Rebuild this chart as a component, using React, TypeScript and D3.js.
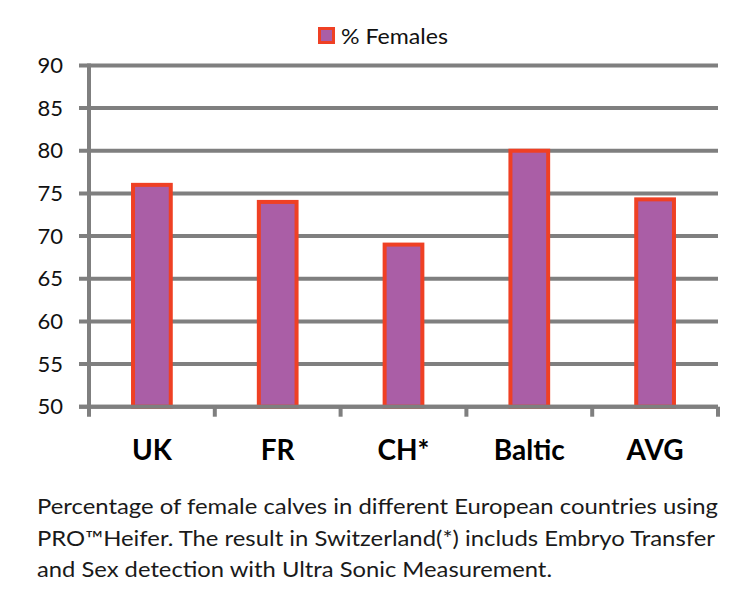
import * as d3 from "d3";
import { useEffect, useRef } from "react";

const categories = ["UK", "FR", "CH*", "Baltic", "AVG"];
const femalesPct = [76, 74, 69, 80, 74.3];
const yTicks = [50, 55, 60, 65, 70, 75, 80, 85, 90];
const seriesName = "% Females";
const captionLines = [
  "Percentage of female calves in different European countries using",
  "PRO\u2122Heifer. The result in Switzerland(*) includs Embryo Transfer",
  "and Sex detection with Ultra Sonic Measurement.",
];

const FONT = "Lato, 'Open Sans', sans-serif";

const App = () => {
  const svgRef = useRef<SVGSVGElement>(null);

  useEffect(() => {
    if (!svgRef.current) return;
    const svg = d3.select(svgRef.current);
    svg.selectAll("*").remove();

    const width = 743;
    const height = 609;
    const marginLeft = 89;
    const marginRight = 25;
    const plotTop = 65.4;
    const plotBottom = 406.7;
    const gridColor = "#7f7f7f";
    const barFill = "#aa5ea6";
    const barStroke = "#ef4024";

    svg.attr("width", width).attr("height", height).attr("viewBox", [0, 0, width, height]);

    // scales
    const x = d3
      .scaleBand()
      .domain(categories)
      .range([marginLeft, width - marginRight])
      .padding(0);

    const y = d3.scaleLinear().domain([50, 90]).range([plotBottom, plotTop]);

    // gridlines (incl. left tick stubs)
    svg
      .append("g")
      .selectAll()
      .data(yTicks)
      .join("line")
      .attr("x1", marginLeft - 10)
      .attr("x2", width - marginRight)
      .attr("y1", (d) => y(d))
      .attr("y2", (d) => y(d))
      .attr("stroke", gridColor)
      .attr("stroke-width", 4);

    // bars
    const barW = x.bandwidth() * 0.3;
    svg
      .append("g")
      .selectAll()
      .data(femalesPct)
      .join("rect")
      .attr("x", (_, i) => x(categories[i])! + x.bandwidth() / 2 - barW / 2)
      .attr("y", (d) => y(d))
      .attr("width", barW)
      .attr("height", (d) => y(50) - y(d))
      .attr("fill", barFill)
      .attr("stroke", barStroke)
      .attr("stroke-width", 4);

    // x axis baseline drawn over the bars
    svg
      .append("line")
      .attr("x1", marginLeft - 10)
      .attr("x2", width - marginRight)
      .attr("y1", y(50))
      .attr("y2", y(50))
      .attr("stroke", gridColor)
      .attr("stroke-width", 4);

    // y axis line
    svg
      .append("line")
      .attr("x1", marginLeft)
      .attr("x2", marginLeft)
      .attr("y1", y(90) - 2)
      .attr("y2", plotBottom + 10)
      .attr("stroke", gridColor)
      .attr("stroke-width", 4);

    // bottom ticks at band edges
    const edges = categories.map((c) => x(c)!).concat([x.range()[1]]);
    svg
      .append("g")
      .selectAll()
      .data(edges.slice(1))
      .join("line")
      .attr("x1", (d) => d)
      .attr("x2", (d) => d)
      .attr("y1", plotBottom)
      .attr("y2", plotBottom + 10)
      .attr("stroke", gridColor)
      .attr("stroke-width", 4);

    // y tick labels
    svg
      .append("g")
      .attr("font-family", FONT)
      .attr("font-size", 22)
      .attr("fill", "#111")
      .attr("text-anchor", "end")
      .selectAll()
      .data(yTicks)
      .join("text")
      .attr("x", 63)
      .attr("y", (d) => y(d) + 7.5)
      .text((d) => d);

    // category labels
    svg
      .append("g")
      .attr("font-family", FONT)
      .attr("font-size", 28)
      .attr("font-weight", "bold")
      .attr("fill", "#000")
      .attr("text-anchor", "middle")
      .selectAll()
      .data(categories)
      .join("text")
      .attr("x", (d) => x(d)! + x.bandwidth() / 2)
      .attr("y", 460)
      .text((d) => d);

    // legend
    const legend = svg.append("g");
    legend
      .append("rect")
      .attr("x", 319.5)
      .attr("y", 28.5)
      .attr("width", 14)
      .attr("height", 14)
      .attr("fill", barFill)
      .attr("stroke", barStroke)
      .attr("stroke-width", 3);
    legend
      .append("text")
      .attr("x", 341)
      .attr("y", 44)
      .attr("font-family", FONT)
      .attr("font-size", 22)
      .attr("fill", "#111")
      .attr("textLength", 107)
      .attr("lengthAdjust", "spacingAndGlyphs")
      .text(seriesName);

    // caption
    const captionWidths = [681, 678, 515];
    svg
      .append("g")
      .attr("font-family", FONT)
      .attr("font-size", 21)
      .attr("fill", "#1a1a1a")
      .selectAll()
      .data(captionLines)
      .join("text")
      .attr("x", 37)
      .attr("y", (_, i) => 514 + i * 31.5)
      .attr("textLength", (_, i) => captionWidths[i])
      .attr("lengthAdjust", "spacingAndGlyphs")
      .text((d) => d);
  }, []);

  return (
    <svg
      ref={svgRef}
      style={{ position: "absolute", left: 0, top: 0, background: "#fff" }}
    ></svg>
  );
};

export default App;
